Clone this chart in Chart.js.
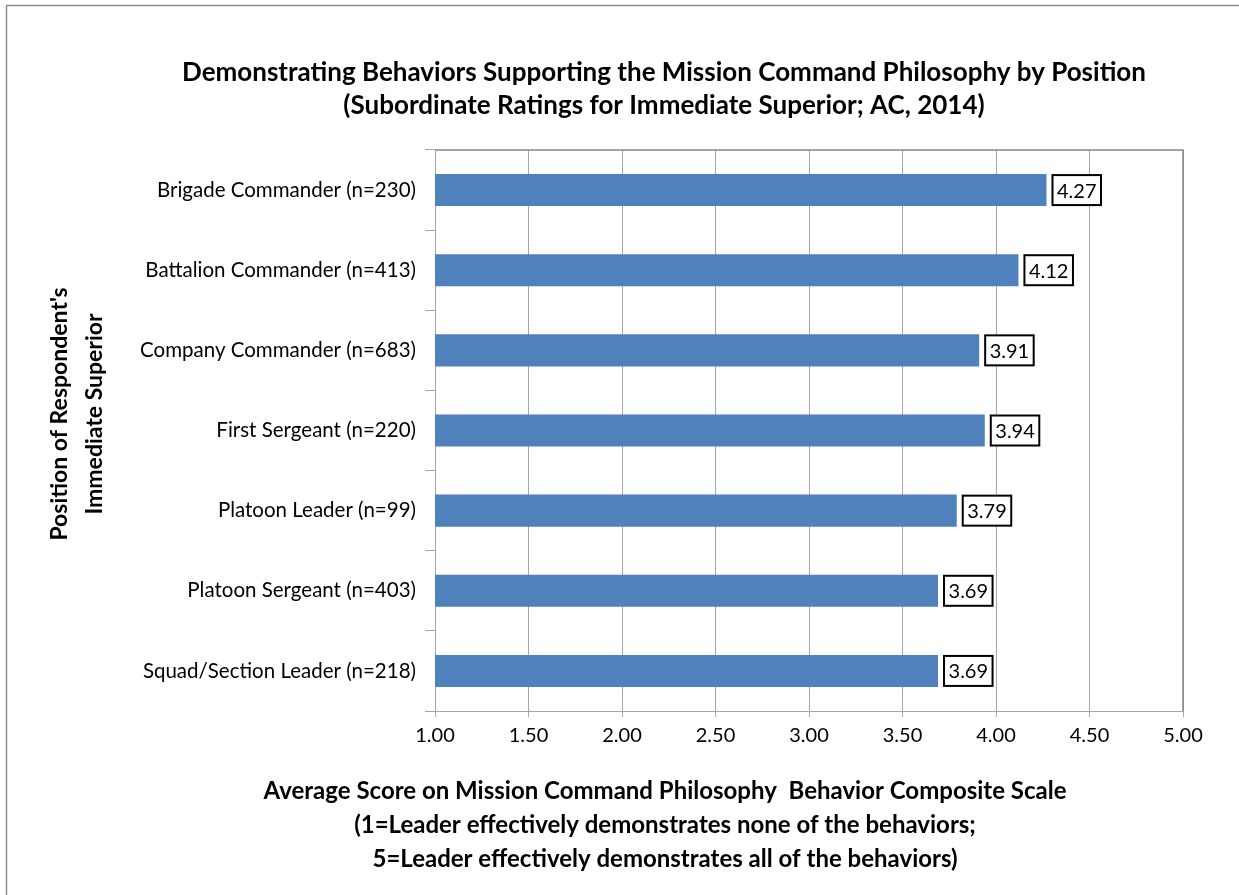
<!DOCTYPE html>
<html>
<head>
<meta charset="utf-8">
<script src="https://cdn.jsdelivr.net/npm/chart.js@4.4.1/dist/chart.umd.min.js"></script>
<style>
  body { margin: 0; background: #fff; }
  #wrap { width: 1239px; height: 895px; }
</style>
</head>
<body>
<div id="wrap"><canvas id="myChart" width="1239" height="895"></canvas></div>
<script>
const positions = [
  'Brigade Commander (n=230)',
  'Battalion Commander (n=413)',
  'Company Commander (n=683)',
  'First Sergeant (n=220)',
  'Platoon Leader (n=99)',
  'Platoon Sergeant (n=403)',
  'Squad/Section Leader (n=218)'
];
const scores = [4.27, 4.12, 3.91, 3.94, 3.79, 3.69, 3.69];

const titleLines = [
  'Demonstrating Behaviors Supporting the Mission Command Philosophy by Position',
  '(Subordinate Ratings for Immediate Superior; AC, 2014)'
];
const yTitleLines = ["Position of Respondent's", 'Immediate Superior'];
const xTitleLines = [
  'Average Score on Mission Command Philosophy  Behavior Composite Scale',
  '(1=Leader effectively demonstrates none of the behaviors;',
  '5=Leader effectively demonstrates all of the behaviors)'
];

const FONT = 'Lato, "Liberation Sans", sans-serif';

const ctx = document.getElementById('myChart');

// frame, titles, plot border and boxed value labels
const decorations = {
  id: 'decorations',
  afterDraw(chart) {
    const c = chart.ctx;
    const a = chart.chartArea;
    c.save();

    // outer frame (left + top visible)
    c.strokeStyle = '#8c8c8c';
    c.lineWidth = 1.5;
    c.beginPath();
    c.moveTo(6.5, 900);
    c.lineTo(6.5, 5.5);
    c.lineTo(1245, 5.5);
    c.stroke();

    // plot area top/right border
    c.strokeStyle = '#868686';
    c.lineWidth = 1.5;
    c.beginPath();
    c.moveTo(a.left, a.top);
    c.lineTo(a.right, a.top);
    c.lineTo(a.right, a.bottom);
    c.stroke();

    c.fillStyle = '#000';
    c.textAlign = 'center';
    c.textBaseline = 'middle';

    // chart title
    c.font = 'bold 26px ' + FONT;
    titleLines.forEach((t, i) => c.fillText(t, 664, 73 + i * 33));

    // x axis title
    c.font = 'bold 24px ' + FONT;
    xTitleLines.forEach((t, i) => c.fillText(t, 665, 791 + i * 34));

    // y axis title
    c.save();
    c.translate(60, 414);
    c.rotate(-Math.PI / 2);
    c.font = 'bold 23px ' + FONT;
    yTitleLines.forEach((t, i) => c.fillText(t, 0, i * 35));
    c.restore();

    // value labels
    const meta = chart.getDatasetMeta(0);
    c.font = '20px ' + FONT;
    meta.data.forEach((bar, i) => {
      const txt = scores[i].toFixed(2);
      const w = c.measureText(txt).width + 9;
      const h = 30;
      const x = bar.x + 6;
      const y = bar.y - h / 2;
      c.fillStyle = '#fff';
      c.fillRect(x, y, w, h);
      c.strokeStyle = '#000';
      c.lineWidth = 2;
      c.strokeRect(x, y, w, h);
      c.fillStyle = '#000';
      c.textAlign = 'center';
      c.fillText(txt, x + w / 2, bar.y + 1);
    });

    c.restore();
  }
};

new Chart(ctx, {
  type: 'bar',
  data: {
    labels: positions,
    datasets: [{
      data: scores,
      backgroundColor: '#4f81bd',
      borderWidth: 0,
      barPercentage: 0.4,
      categoryPercentage: 1
    }]
  },
  options: {
    indexAxis: 'y',
    responsive: false,
    animation: false,
    layout: { padding: { top: 150, right: 56, left: 0, bottom: 0 } },
    plugins: {
      legend: { display: false },
      tooltip: { enabled: false }
    },
    scales: {
      x: {
        min: 1,
        max: 5,
        afterFit(scale) { scale.height = 184; },
        ticks: {
          stepSize: 0.5,
          color: '#000',
          padding: 7,
          font: { family: FONT, size: 20 },
          callback: v => Number(v).toFixed(2)
        },
        grid: { color: '#a6a6a6', lineWidth: 1, tickLength: 6 },
        border: { color: '#a6a6a6', width: 1 }
      },
      y: {
        afterFit(scale) { scale.width = 435; },
        ticks: {
          color: '#000',
          padding: 9,
          font: { family: FONT, size: 20.5 }
        },
        grid: {
          offset: true,
          drawOnChartArea: false,
          color: '#a6a6a6',
          tickLength: 10
        },
        border: { color: '#a6a6a6', width: 1 }
      }
    }
  },
  plugins: [decorations]
});
</script>
</body>
</html>
